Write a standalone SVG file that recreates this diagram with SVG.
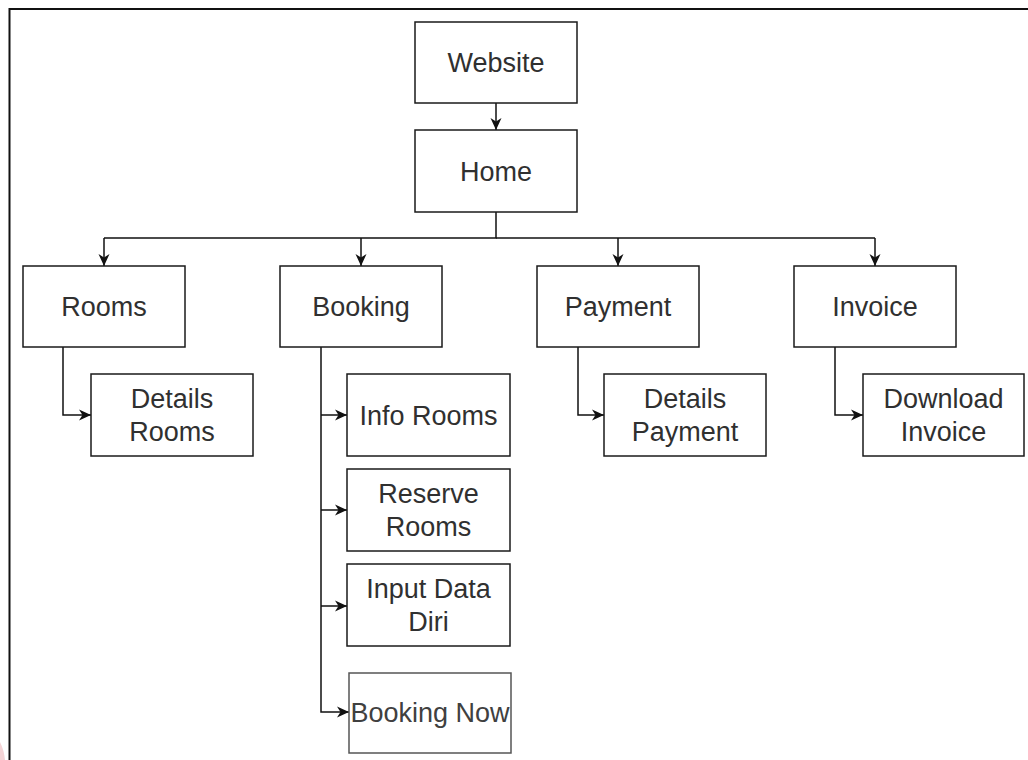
<svg xmlns="http://www.w3.org/2000/svg" width="1028" height="760" viewBox="0 0 1028 760">
  <style>
    .box { fill: #ffffff; stroke: #1a1a1a; stroke-width: 1.5; }
    .box.soft { stroke: #555555; }
    .lbl { font-family: "Liberation Sans", Arial, sans-serif; font-size: 27px; fill: #303030; text-anchor: middle; }
    .lbl.soft { fill: #404040; }
    .edge { fill: none; stroke: #111111; stroke-width: 1.5; }
    .frame { fill: none; stroke: #111111; stroke-width: 2; }
  </style>
  <defs>
    <marker id="arrow" markerUnits="userSpaceOnUse" markerWidth="13" markerHeight="12" refX="12" refY="6" orient="auto">
      <path d="M0,0.5 L12,6 L0,11.5 L3.5,6 Z" fill="#111111"/>
    </marker>
  </defs>

  <rect x="0" y="0" width="1028" height="760" fill="#ffffff"/>

  <!-- page frame -->
  <g id="frame">
    <path class="frame" d="M9.5,760 V9 H1028"/>
    <path d="M0,742 Q4,750 5,760 H0 Z" fill="#f4d4d6"/>
  </g>

  <!-- connectors -->
  <g id="connectors">
    <path class="edge" d="M496,103 V130" marker-end="url(#arrow)"/>
    <path class="edge" d="M496,212 V238 H104"/>
    <path class="edge" d="M496,238 H875"/>
    <path class="edge" d="M104,238 V266" marker-end="url(#arrow)"/>
    <path class="edge" d="M361,238 V266" marker-end="url(#arrow)"/>
    <path class="edge" d="M618,238 V266" marker-end="url(#arrow)"/>
    <path class="edge" d="M875,238 V266" marker-end="url(#arrow)"/>

    <path class="edge" d="M63,347 V415 H91" marker-end="url(#arrow)"/>
    <path class="edge" d="M578,347 V415 H604" marker-end="url(#arrow)"/>
    <path class="edge" d="M835,347 V415 H863" marker-end="url(#arrow)"/>

    <path class="edge" d="M321,347 V712 H349" marker-end="url(#arrow)"/>
    <path class="edge" d="M321,415 H347" marker-end="url(#arrow)"/>
    <path class="edge" d="M321,510 H347" marker-end="url(#arrow)"/>
    <path class="edge" d="M321,606 H347" marker-end="url(#arrow)"/>
  </g>

  <g id="website">
    <rect class="box" x="415" y="22" width="162" height="81"/>
    <text class="lbl" x="496" y="72">Website</text>
  </g>
  <g id="home">
    <rect class="box" x="415" y="130" width="162" height="82"/>
    <text class="lbl" x="496" y="181">Home</text>
  </g>

  <g id="rooms">
    <rect class="box" x="23" y="266" width="162" height="81"/>
    <text class="lbl" x="104" y="316">Rooms</text>
  </g>
  <g id="booking">
    <rect class="box" x="280" y="266" width="162" height="81"/>
    <text class="lbl" x="361" y="316">Booking</text>
  </g>
  <g id="payment">
    <rect class="box" x="537" y="266" width="162" height="81"/>
    <text class="lbl" x="618" y="316">Payment</text>
  </g>
  <g id="invoice">
    <rect class="box" x="794" y="266" width="162" height="81"/>
    <text class="lbl" x="875" y="316">Invoice</text>
  </g>

  <g id="details-rooms">
    <rect class="box" x="91" y="374" width="162" height="82"/>
    <text class="lbl" x="172" y="408">Details</text>
    <text class="lbl" x="172" y="441">Rooms</text>
  </g>
  <g id="details-payment">
    <rect class="box" x="604" y="374" width="162" height="82"/>
    <text class="lbl" x="685" y="408">Details</text>
    <text class="lbl" x="685" y="441">Payment</text>
  </g>
  <g id="download-invoice">
    <rect class="box" x="863" y="374" width="161" height="82"/>
    <text class="lbl" x="943.5" y="408">Download</text>
    <text class="lbl" x="943.5" y="441">Invoice</text>
  </g>

  <g id="info-rooms">
    <rect class="box" x="347" y="374" width="163" height="82"/>
    <text class="lbl" x="428.5" y="425">Info Rooms</text>
  </g>
  <g id="reserve-rooms">
    <rect class="box" x="347" y="469" width="163" height="82"/>
    <text class="lbl" x="428.5" y="503">Reserve</text>
    <text class="lbl" x="428.5" y="536">Rooms</text>
  </g>
  <g id="input-data-diri">
    <rect class="box" x="347" y="564" width="163" height="82"/>
    <text class="lbl" x="428.5" y="598">Input Data</text>
    <text class="lbl" x="428.5" y="631">Diri</text>
  </g>
  <g id="booking-now">
    <rect class="box soft" x="349" y="673" width="162" height="80"/>
    <text class="lbl soft" x="430" y="722">Booking Now</text>
  </g>
</svg>
